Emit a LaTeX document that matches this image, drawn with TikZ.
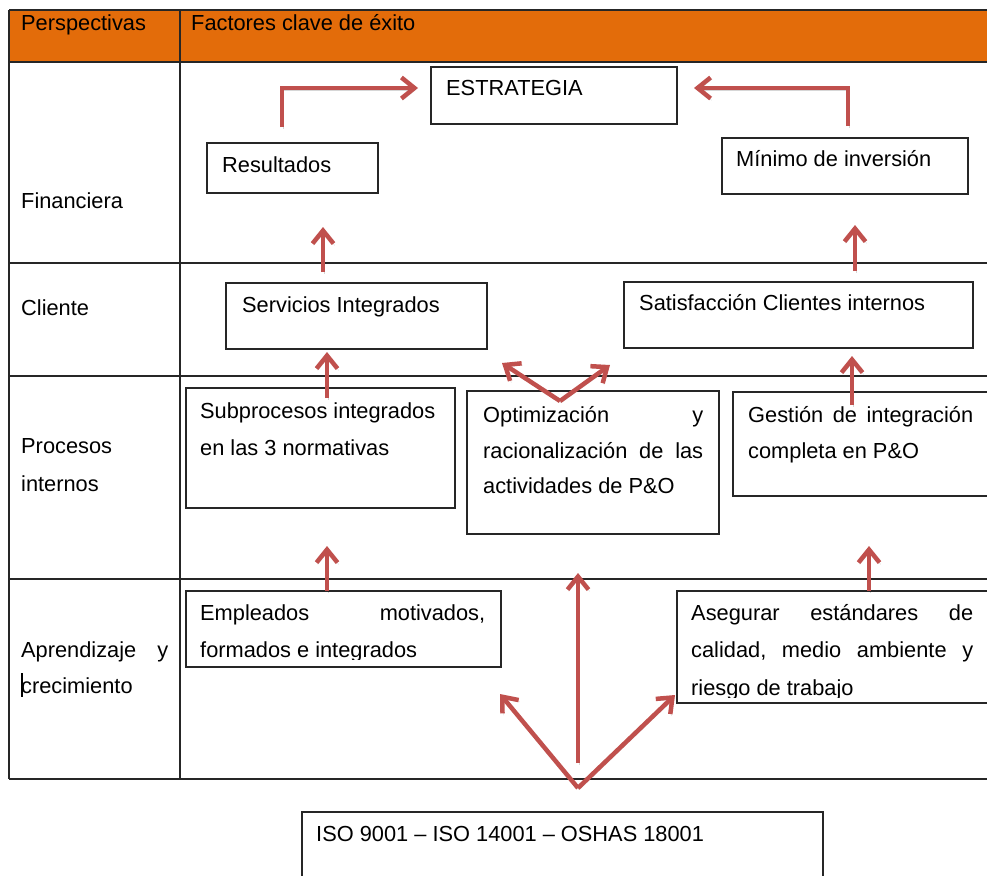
\documentclass[tikz,border=0pt]{standalone}
\usepackage{fontspec}
\setmainfont{Liberation Sans}
\usetikzlibrary{arrows.meta}
\definecolor{hdr}{RGB}{227,108,10}
\definecolor{arrred}{RGB}{192,80,77}
\begin{document}
\begin{tikzpicture}[x=1pt,y=-1pt,
  box/.style={draw=black!85, line width=1.4pt, anchor=north west, inner sep=0pt, outer sep=0pt, fill=white},
  txt/.style={anchor=base west, inner sep=0pt, font=\fontsize{21.8}{26}\selectfont},
  arr/.style={draw=arrred, line width=4.5pt, -{Straight Barb[length=13pt,width=21pt]},
    preaction={draw=black, draw opacity=0.16, transform canvas={shift={(1.2pt,-1.8pt)}}}},
  grid/.style={line width=1.5pt, draw=black!85}]
\useasboundingbox (0,0) rectangle (987,875);
\clip (0,0) rectangle (987,875);
% table
\fill[hdr] (9,10) rectangle (995,62);
\foreach \yy in {10,62,263,376,579,779} \draw[grid] (9,\yy) -- (995,\yy);
\draw[grid] (9,10) -- (9,779);
\draw[grid] (180,10) -- (180,779);
% header and row labels
\node[txt] (h1) at (21,31) {Perspectivas};
\node[txt] (h2) at (191,31) {Factores clave de éxito};
\node[txt] (r1) at (21,208) {Financiera};
\node[txt] (r2) at (21,315) {Cliente};
\node[txt] (r3a) at (21,453) {Procesos};
\node[txt] (r3b) at (21,491) {internos};
\node[txt] (r4a) at (21,657) {\makebox[147pt][l]{Aprendizaje\hfill y}};
\node[txt] (r4b) at (21,693) {crecimiento};
\draw[line width=2pt] (21.5,673) -- (21.5,697);
% boxes
\node[box, minimum width=246pt, minimum height=57pt] (estr) at (431,67) {};
\node[txt] (estrt) at (446,95) {ESTRATEGIA};
\node[box, minimum width=171pt, minimum height=50pt] (res) at (207,143) {};
\node[txt] (rest) at (222,172) {Resultados};
\node[box, minimum width=246pt, minimum height=56pt] (mini) at (722,138) {};
\node[txt] (minit) at (736,166) {Mínimo de inversión};
\node[box, minimum width=261pt, minimum height=66pt] (serv) at (226,283) {};
\node[txt] (servt) at (242,312) {Servicios Integrados};
\node[box, minimum width=349pt, minimum height=66pt] (sat) at (624,282) {};
\node[txt] (satt) at (639,310) {Satisfacción Clientes internos};
\node[box, minimum width=269pt, minimum height=120pt] (sub) at (186,388) {};
\node[txt] (subt1) at (200,418) {Subprocesos integrados};
\node[txt] (subt2) at (200,455) {en las 3 normativas};
\node[box, minimum width=252pt, minimum height=143pt] (opt) at (467,391) {};
\node[txt] (optt1) at (483,422) {\makebox[220pt][l]{Optimización\hfill y}};
\node[txt] (optt2) at (483,458) {\makebox[220pt][l]{racionalización\hfill de\hfill las}};
\node[txt] (optt3) at (483,493) {actividades de P\&O};
\node[box, minimum width=262pt, minimum height=104pt] (gest) at (733,392) {};
\node[txt] (gestt1) at (748,422) {\makebox[225pt][l]{Gestión\hfill de\hfill integración}};
\node[txt] (gestt2) at (748,458) {completa en P\&O};
\node[box, minimum width=315pt, minimum height=76pt] (emp) at (186,591) {};
\begin{scope}
\clip (186,591) rectangle (501,659);
\node[txt] (empt1) at (200,620) {\makebox[285pt][l]{Empleados\hfill motivados,}};
\node[txt] (empt2) at (200,657) {formados e integrados};
\end{scope}
\node[box, minimum width=318pt, minimum height=112pt] (ase) at (677,591) {};
\begin{scope}
\clip (677,591) rectangle (995,697);
\node[txt] (aset1) at (691,620) {\makebox[282pt][l]{Asegurar\hfill estándares\hfill de}};
\node[txt] (aset2) at (691,657) {\makebox[282pt][l]{calidad,\hfill medio\hfill ambiente\hfill y}};
\node[txt] (aset3) at (691,695) {riesgo de trabajo};
\end{scope}
\node[box, minimum width=521pt, minimum height=90pt] (iso) at (302,812) {};
\node[txt] (isot) at (316,841) {ISO 9001 – ISO 14001 – OSHAS 18001};
% arrows
\draw[arr] ([xshift=-10.5pt,yshift=16pt]res.north) |- ([xshift=-13pt,yshift=7.5pt]estr.west);
\draw[arr] ([xshift=3pt,yshift=12pt]mini.north) |- ([xshift=17pt,yshift=7.5pt]estr.east);
\draw[arr] ([xshift=-33.5pt,yshift=11pt]serv.north) -- ++(0,-45);
\draw[arr] ([xshift=56.5pt,yshift=11pt]sat.north) -- ++(0,-46);
\draw[arr] ([xshift=141pt,yshift=-10pt]sub.north west) -- ++(0,-46);
\coordinate (optapex) at ([xshift=-33pt,yshift=-10pt]opt.north);
\draw[arr] (optapex) -- ++(-58,-38);
\draw[arr] (optapex) -- ++(50,-36);
\draw[arr] ([xshift=119pt,yshift=-13pt]gest.north west) -- ++(0,-49);
\draw[arr] ([xshift=141pt]emp.north west) -- ++(0,-45);
\draw[arr] ([xshift=192pt]ase.north west) -- ++(0,-45);
\coordinate (isoapex) at ([xshift=276pt,yshift=24pt]iso.north west);
\draw[arr] ([yshift=25pt]isoapex) -- ++(0,-190);
\draw[arr] (isoapex) -- ++(-78,-94);
\draw[arr] (isoapex) -- ++(97,-93);
\end{tikzpicture}
\end{document}
